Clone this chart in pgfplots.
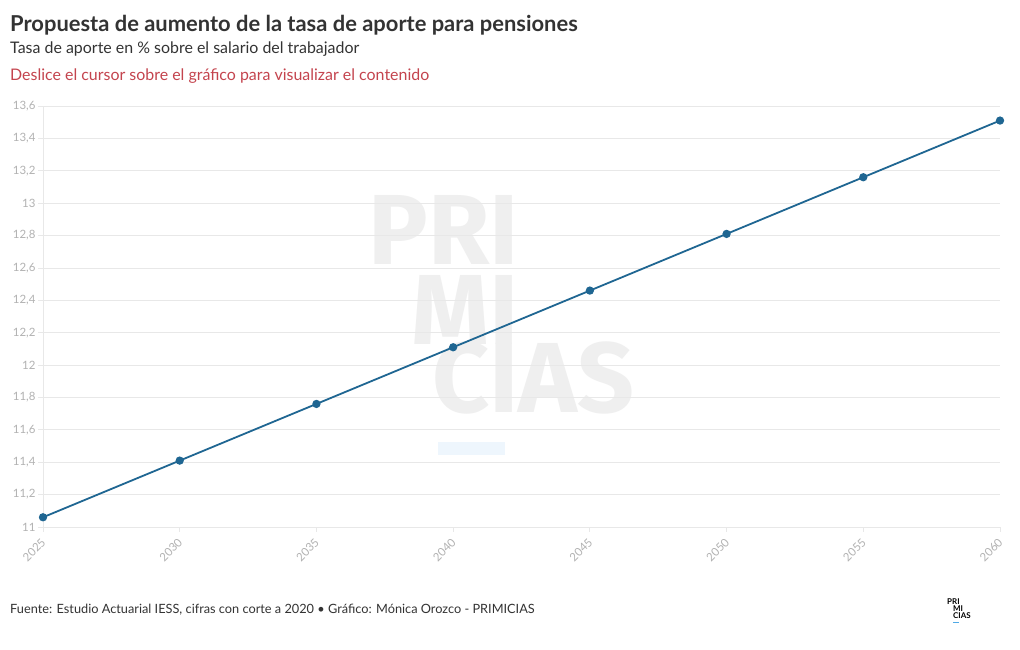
\documentclass[border=0pt]{standalone}
\usepackage{pgfplots}
\pgfplotsset{compat=1.18}
\usepackage{fontspec}
\setmainfont{Lato}
\newfontfamily\wmfont{Fira Sans}
\definecolor{linec}{RGB}{31,102,146}
\definecolor{gridc}{RGB}{232,232,232}
\definecolor{tickc}{RGB}{178,178,178}
\definecolor{titlec}{RGB}{51,51,51}
\definecolor{redc}{RGB}{196,68,78}
\definecolor{wmc}{RGB}{239,239,239}
\definecolor{bluebox}{RGB}{238,246,253}
\definecolor{logoblue}{RGB}{80,170,230}
\begin{document}
\begin{tikzpicture}[x=1bp,y=1bp]
\useasboundingbox[fill=white] (0,0) rectangle (1020,650);
% watermark
\node[anchor=base east,inner sep=0,text=wmc,font=\fontsize{100}{100}\selectfont\wmfont\bfseries] at (519,385) {PRI};
\node[anchor=base east,inner sep=0,text=wmc,font=\fontsize{100}{100}\selectfont\wmfont\bfseries] at (519,305) {MI};
\node[anchor=base west,inner sep=0,text=wmc,font=\fontsize{100}{100}\selectfont\wmfont\bfseries] at (432,237) {CIAS};
\fill[bluebox] (438,195) rectangle (505,208);
\begin{axis}[
  at={(43bp,123bp)}, anchor=south west,
  scale only axis, width=957bp, height=421bp,
  xmin=2025, xmax=2060, ymin=11, ymax=13.6,
  clip=false,
  axis x line*=bottom, axis y line*=left,
  x axis line style={draw=gridc, line width=0.8pt},
  y axis line style={draw=gridc, line width=0.6pt},
  xtick={2025,2030,...,2060},
  ytick={11,11.2,...,13.61},
  ymajorgrids, grid style={gridc, line width=0.8pt},
  major tick style={gridc, line width=0.8pt},
  major tick length=5bp,
  tick align=outside,
  ticklabel style={text=tickc, font=\fontsize{11.5}{12}\selectfont},
  xticklabel style={xshift=3bp, yshift=-6bp, rotate=45, anchor=east},
  xticklabel={\pgfmathprintnumber[1000 sep={}]{\tick}},
  yticklabel style={xshift=1bp},
  /pgf/number format/.cd, use comma, 1000 sep={}, assume math mode=true,
]
\addplot[linec, line width=1.8pt, mark=*, mark size=3.2bp, mark options={fill=linec, draw=linec}]
coordinates {(2025,11.06)(2030,11.41)(2035,11.76)(2040,12.11)(2045,12.46)(2050,12.81)(2055,13.16)(2060,13.51)};
\end{axis}
% titles
\node[anchor=base west,inner sep=0,text=titlec,font=\fontsize{22}{26}\selectfont\bfseries] at (10,618) {Propuesta de aumento de la tasa de aporte para pensiones};
\node[anchor=base west,inner sep=0,text=titlec,font=\fontsize{16}{18}\selectfont] at (10,596) {Tasa de aporte en \% sobre el salario del trabajador};
\node[anchor=base west,inner sep=0,text=redc,font=\fontsize{16}{18}\selectfont] at (10,569) {Deslice el cursor sobre el gráfico para visualizar el contenido};
\node[anchor=base west,inner sep=0,text=titlec,font=\fontsize{12.8}{15}\selectfont] at (10,36) {Fuente: Estudio Actuarial IESS, cifras con corte a 2020 • Gráfico: Mónica Orozco - PRIMICIAS};
% logo
\node[anchor=base west,inner sep=0,text=black,font=\fontsize{8}{8}\selectfont\bfseries] at (947,45) {PRI};
\node[anchor=base west,inner sep=0,text=black,font=\fontsize{8}{8}\selectfont\bfseries] at (953,38) {MI};
\node[anchor=base west,inner sep=0,text=black,font=\fontsize{8}{8}\selectfont\bfseries] at (953,31) {CIAS};
\fill[logoblue] (953,27) rectangle (959,28);
\end{tikzpicture}
\end{document}
